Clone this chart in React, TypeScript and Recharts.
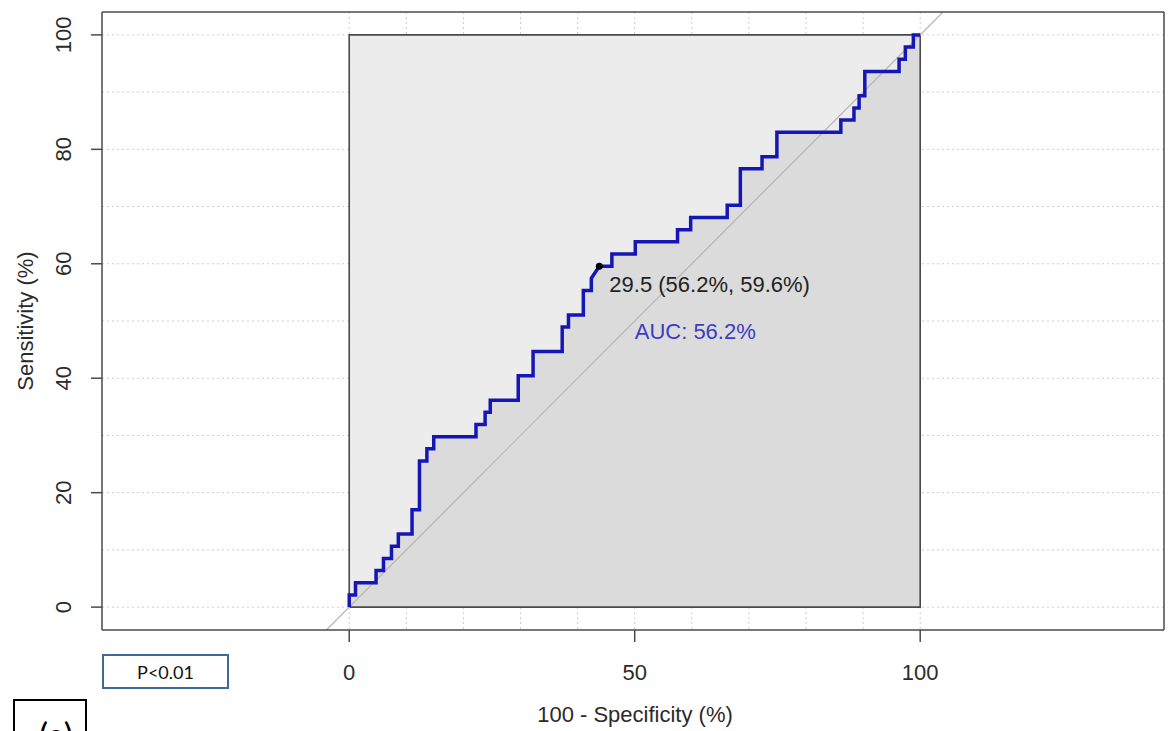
import React from "react";
import {
  ComposedChart,
  Area,
  Line,
  Scatter,
  XAxis,
  YAxis,
  CartesianGrid,
  Label,
} from "recharts";

// vértices de la curva ROC: 100 - especificidad (%) y sensibilidad (%)
const fpr = [
  0, 0, 1.1, 1.1, 4.7, 4.7, 6.0, 6.0, 7.4, 7.4, 8.6, 8.6, 11.0, 11.0, 12.3, 12.3,
  13.6, 13.6, 14.8, 14.8, 22.2, 22.2, 23.8, 23.8, 24.7, 24.7, 29.6, 29.6, 32.2, 32.2,
  37.3, 37.3, 38.4, 38.4, 41.0, 41.0, 42.4, 42.4, 43.8, 46.0, 46.0, 50.1, 50.1, 57.5,
  57.5, 59.8, 59.8, 66.2, 66.2, 68.5, 68.5, 72.3, 72.3, 74.9, 74.9, 86.1, 86.1, 88.4,
  88.4, 89.3, 89.3, 90.3, 90.3, 96.3, 96.3, 97.4, 97.4, 98.8, 98.8, 100,
];
const sens = [
  0, 2.13, 2.13, 4.26, 4.26, 6.38, 6.38, 8.51, 8.51, 10.64, 10.64, 12.77, 12.77, 17.02,
  17.02, 25.53, 25.53, 27.66, 27.66, 29.79, 29.79, 31.91, 31.91, 34.04, 34.04, 36.17,
  36.17, 40.43, 40.43, 44.68, 44.68, 48.94, 48.94, 51.06, 51.06, 55.32, 55.32, 57.45,
  59.57, 59.57, 61.7, 61.7, 63.83, 63.83, 65.96, 65.96, 68.09, 68.09, 70.21, 70.21,
  76.6, 76.6, 78.72, 78.72, 82.98, 82.98, 85.11, 85.11, 87.23, 87.23, 89.36, 89.36,
  93.62, 93.62, 95.74, 95.74, 97.87, 97.87, 100, 100,
];

// punto de corte y AUC
const corte = [{ x: 43.8, y: 59.57, texto: "29.5 (56.2%, 59.6%)" }];
const auc = [{ x: 50, y: 50, texto: "AUC: 56.2%" }];

// ejes
const xTicks = [0, 50, 100];
const yTicks = [0, 20, 40, 60, 80, 100];
const gridVals = [0, 10, 20, 30, 40, 50, 60, 70, 80, 90, 100];
const xDomain = [-43.3, 142.7];
const yDomain = [-4, 104];

const rocData = fpr.map((x, i) => ({ x, y: sens[i] }));
// polígono del AUC máximo (0-100 x 0-100)
const maxAuc = [
  { x: 0, y: 100 },
  { x: 100, y: 100 },
];
const caja = [
  { x: 0, y: 0 },
  { x: 0, y: 100 },
  { x: 100, y: 100 },
  { x: 100, y: 0 },
  { x: 0, y: 0 },
];
const diagonal = [
  { x: yDomain[0], y: yDomain[0] },
  { x: yDomain[1], y: yDomain[1] },
];

const FONT = "'Liberation Sans', Arial, sans-serif";
const GRIS = "#4a4a4a";
const TEXTO = "#2b2b2b";

function TickX(props: any) {
  const { x, y, payload } = props;
  return (
    <text x={x} y={y + 38} textAnchor="middle" fill={TEXTO} fontSize={22} fontFamily={FONT}>
      {payload.value}
    </text>
  );
}

function TickY(props: any) {
  const { x, y, payload } = props;
  const cx = x - 28;
  return (
    <text
      x={cx}
      y={y}
      dy="0.36em"
      transform={`rotate(-90 ${cx} ${y})`}
      textAnchor="middle"
      fill={TEXTO}
      fontSize={22}
      fontFamily={FONT}
    >
      {payload.value}
    </text>
  );
}

function PuntoCorte(props: any) {
  const { cx, cy, payload } = props;
  return (
    <g>
      <circle cx={cx} cy={cy} r={3.5} fill="#000" />
      <text x={cx + 10} y={cy + 26} fill="#222" fontSize={22} fontFamily={FONT}>
        {payload.texto}
      </text>
    </g>
  );
}

function TextoAuc(props: any) {
  const { cx, cy, payload } = props;
  return (
    <text x={cx} y={cy + 18} fill="#3b3bc4" fontSize={22} fontFamily={FONT}>
      {payload.texto}
    </text>
  );
}

export default function App() {
  return (
    <div
      style={{
        position: "absolute",
        left: 0,
        top: 0,
        width: 1169,
        height: 731,
        overflow: "hidden",
        background: "#fff",
      }}
    >
      <ComposedChart width={1169} height={731} margin={{ top: 11, right: 4, bottom: 0, left: 0 }}>
        <CartesianGrid
          horizontalValues={gridVals}
          verticalValues={gridVals}
          stroke="#cdcdcd"
          strokeDasharray="2 3"
        />
        <XAxis
          dataKey="x"
          type="number"
          domain={xDomain}
          allowDataOverflow
          ticks={xTicks}
          interval={0}
          height={101}
          tickSize={12}
          tickMargin={0}
          tick={<TickX />}
          stroke={GRIS}
          strokeWidth={1.5}
        >
          <Label
            content={(p: any) => {
              const vb = p.viewBox;
              return (
                <text
                  x={vb.x + vb.width / 2 + 2}
                  y={vb.y + 92}
                  textAnchor="middle"
                  fill={TEXTO}
                  fontSize={22}
                  fontFamily={FONT}
                >
                  100 - Specificity (%)
                </text>
              );
            }}
          />
        </XAxis>
        <XAxis
          xAxisId="top"
          orientation="top"
          dataKey="x"
          type="number"
          domain={xDomain}
          allowDataOverflow
          height={1}
          tick={false}
          tickLine={false}
          stroke={GRIS}
          strokeWidth={1.5}
        />
        <YAxis
          dataKey="y"
          type="number"
          domain={yDomain}
          allowDataOverflow
          ticks={yTicks}
          interval={0}
          width={102}
          tickSize={11}
          tickMargin={0}
          tick={<TickY />}
          stroke={GRIS}
          strokeWidth={1.5}
        >
          <Label
            content={(p: any) => {
              const vb = p.viewBox;
              const cx = vb.x + 25;
              const cy = vb.y + vb.height / 2;
              return (
                <text
                  x={cx}
                  y={cy}
                  dy="0.36em"
                  transform={`rotate(-90 ${cx} ${cy})`}
                  textAnchor="middle"
                  fill={TEXTO}
                  fontSize={22}
                  fontFamily={FONT}
                >
                  Sensitivity (%)
                </text>
              );
            }}
          />
        </YAxis>
        <YAxis
          yAxisId="right"
          orientation="right"
          dataKey="y"
          type="number"
          domain={yDomain}
          allowDataOverflow
          width={1}
          tick={false}
          tickLine={false}
          stroke={GRIS}
          strokeWidth={1.5}
        />
        <Area
          data={maxAuc}
          dataKey="y"
          type="linear"
          baseValue={0}
          fill="#ececec"
          fillOpacity={1}
          stroke="none"
          isAnimationActive={false}
        />
        <Area
          data={rocData}
          dataKey="y"
          type="linear"
          baseValue={0}
          fill="#dbdbdb"
          fillOpacity={1}
          stroke="none"
          isAnimationActive={false}
        />
        <Line
          data={caja}
          dataKey="y"
          xAxisId="top"
          yAxisId="right"
          type="linear"
          stroke={GRIS}
          strokeWidth={1.6}
          dot={false}
          activeDot={false}
          isAnimationActive={false}
        />
        <Line
          data={diagonal}
          dataKey="y"
          type="linear"
          stroke="#b5b5b5"
          strokeWidth={1.2}
          dot={false}
          activeDot={false}
          isAnimationActive={false}
        />
        <Line
          data={rocData}
          dataKey="y"
          type="linear"
          stroke="#1616b4"
          strokeWidth={3.5}
          strokeLinejoin="miter"
          dot={false}
          activeDot={false}
          isAnimationActive={false}
        />
        <Scatter data={corte} dataKey="y" shape={<PuntoCorte />} isAnimationActive={false} />
        <Scatter data={auc} dataKey="y" shape={<TextoAuc />} isAnimationActive={false} />
      </ComposedChart>
      <div
        style={{
          position: "absolute",
          left: 102,
          top: 654,
          width: 123,
          height: 31,
          border: "2px solid #3d6a97",
          display: "flex",
          alignItems: "center",
          justifyContent: "center",
          fontFamily: "Lato, 'Open Sans', sans-serif",
          fontSize: 18,
          color: "#111",
        }}
      >
        P&lt;0.01
      </div>
      <div
        style={{
          position: "absolute",
          left: 13,
          top: 699,
          width: 74,
          height: 60,
          border: "2px solid #000",
          fontFamily: "Lato, 'Open Sans', sans-serif",
          fontSize: 34,
          lineHeight: "40px",
          paddingLeft: 24,
          paddingTop: 14,
          boxSizing: "border-box",
          color: "#000",
        }}
      >
        (a)
      </div>
    </div>
  );
}
